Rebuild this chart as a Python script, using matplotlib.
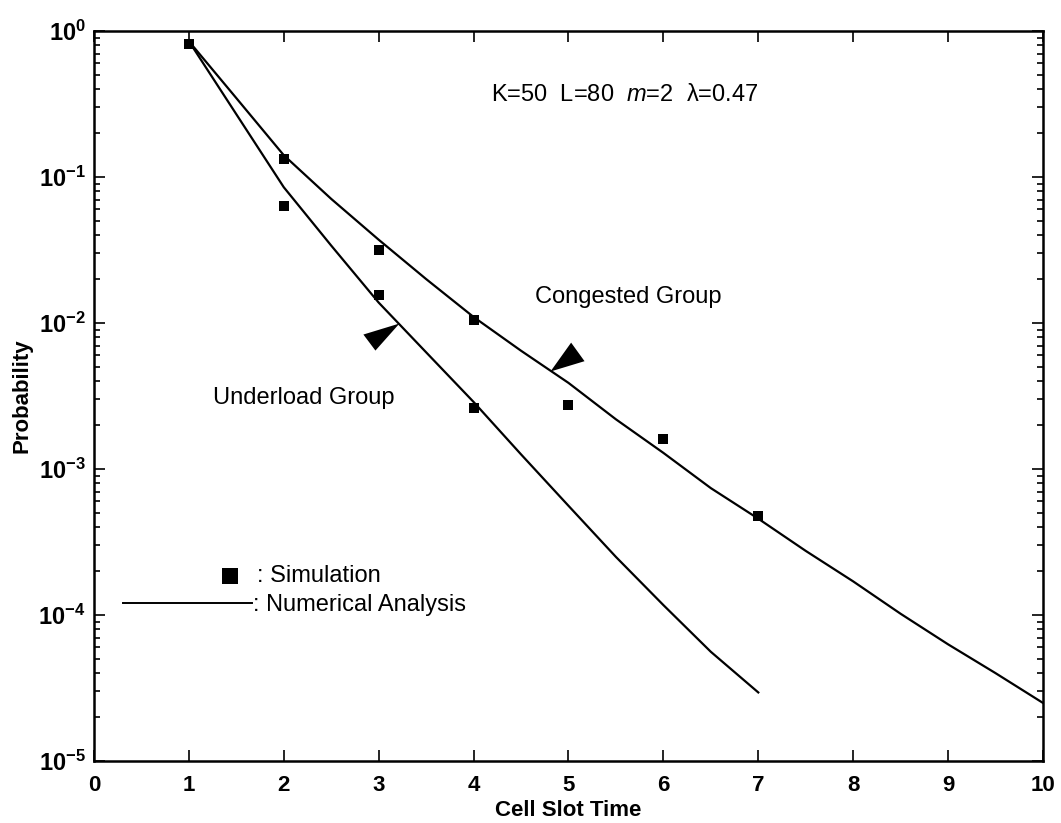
import numpy as np
import matplotlib
matplotlib.use("Agg")
import matplotlib.pyplot as plt
from matplotlib.path import Path
from matplotlib.ticker import FixedLocator, LogLocator, FuncFormatter, NullFormatter

plt.rcParams['font.family'] = ['Liberation Sans', 'DejaVu Sans']
plt.rcParams['mathtext.fontset'] = 'custom'
plt.rcParams['mathtext.rm'] = 'Liberation Sans'
plt.rcParams['mathtext.it'] = 'Liberation Sans:italic'
plt.rcParams['mathtext.bf'] = 'Liberation Sans:bold'

# numerical analysis curves (probability per cell slot time)
slots_congested = [1.0, 1.5, 2.0, 2.5, 3.0, 3.5, 4.0, 4.5, 5.0, 5.5,
                   6.0, 6.5, 7.0, 7.5, 8.0, 8.5, 9.0, 9.5, 10.0]
congested_analysis = [0.851, 0.347, 0.141, 0.0708, 0.0372, 0.0200, 0.0110,
                      0.00646, 0.00389, 0.00219, 0.00129, 7.4e-4, 4.57e-4,
                      2.75e-4, 1.70e-4, 1.02e-4, 6.3e-5, 4.0e-5, 2.5e-5]

slots_underload = [1.0, 1.5, 2.0, 2.5, 3.0, 3.5, 4.0, 4.5, 5.0, 5.5,
                   6.0, 6.5, 7.0]
underload_analysis = [0.851, 0.269, 0.0851, 0.0339, 0.0138, 0.0063, 0.00288,
                      0.00126, 5.6e-4, 2.5e-4, 1.17e-4, 5.6e-5, 2.95e-5]

# simulation results
sim_slots_congested = [1, 2, 3, 4, 5, 6, 7]
sim_congested = [0.815, 0.133, 0.0316, 0.0105, 0.00275, 0.00161, 0.00048]
sim_slots_underload = [2, 3, 4]
sim_underload = [0.063, 0.0155, 0.0026]

x_ticks = list(range(0, 11))

fig = plt.figure(figsize=(10.61, 8.23), dpi=100)
ax = fig.add_axes([0.0886, 0.0753, 0.8944, 0.887])

lw = 1.6
ax.plot(slots_congested, congested_analysis, color='black', lw=lw)
ax.plot(slots_underload, underload_analysis, color='black', lw=lw)
ax.plot(sim_slots_congested, sim_congested, 's', color='black', ms=7.5, mew=0)
ax.plot(sim_slots_underload, sim_underload, 's', color='black', ms=7, mew=0)

ax.set_yscale('log')
ax.set_xlim(0, 10)
ax.set_ylim(1e-5, 1)

ax.xaxis.set_major_locator(FixedLocator(x_ticks))
ax.yaxis.set_major_locator(LogLocator(base=10, numticks=10))
ax.yaxis.set_minor_locator(LogLocator(base=10, subs=np.arange(2, 10), numticks=50))
ax.yaxis.set_minor_formatter(NullFormatter())
ax.yaxis.set_major_formatter(FuncFormatter(
    lambda v, pos: r'$\mathbf{10^{%d}}$' % int(round(np.log10(v)))))

ax.tick_params(which='both', direction='in', top=True, right=True,
               width=1.2, colors='black')
ax.tick_params(which='major', length=8)
ax.tick_params(which='minor', length=4.5)
ax.tick_params(axis='x', labelsize=16, pad=10)
ax.tick_params(axis='y', labelsize=17, pad=6)
for lbl in ax.get_xticklabels():
    lbl.set_fontweight('bold')
for sp in ax.spines.values():
    sp.set_linewidth(1.8)

ax.set_xlabel('Cell Slot Time', fontsize=16, fontweight='bold', labelpad=3)
ax.set_ylabel('Probability', fontsize=16, fontweight='bold', labelpad=4)

# parameters and group labels
ax.text(0.418, 0.912, r'K=50  L=80  $\mathit{m}$=2  λ=0.47',
        transform=ax.transAxes, fontsize=17, ha='left', va='center')
ax.text(0.563, 0.635, 'Congested Group', transform=ax.transAxes,
        fontsize=17, ha='center', va='center')
ax.text(0.221, 0.497, 'Underload Group', transform=ax.transAxes,
        fontsize=17, ha='center', va='center')

# wedge pointers, tip placed on each curve
def wedge(corner_a, corner_b):
    verts = [(0, 0), corner_a, corner_b, (0, 0)]
    codes = [Path.MOVETO, Path.LINETO, Path.LINETO, Path.CLOSEPOLY]
    return Path(verts, codes)

tip_u = 3.21
tip_c = 4.81
yu = 10 ** np.interp(tip_u, slots_underload, np.log10(underload_analysis))
yc = 10 ** np.interp(tip_c, slots_congested, np.log10(congested_analysis))
ax.plot([tip_u], [yu], marker=wedge((-36, -11), (-24, -27)), color='black',
        ms=52, mew=0, ls='none')
ax.plot([tip_c], [yc], marker=wedge((20, 28), (33, 10)), color='black',
        ms=49, mew=0, ls='none')

# hand-made key
ax.plot([0.1433], [0.2534], 's', color='black', ms=11, mew=0,
        transform=ax.transAxes, clip_on=False)
ax.text(0.1718, 0.2534, ': Simulation', transform=ax.transAxes,
        fontsize=17, ha='left', va='center')
ax.plot([0.0306, 0.1665], [0.2164, 0.2164], color='black', lw=1.4,
        transform=ax.transAxes)
ax.text(0.1675, 0.2137, ': Numerical Analysis', transform=ax.transAxes,
        fontsize=17, ha='left', va='center')

fig.savefig('out.png', dpi=100)
